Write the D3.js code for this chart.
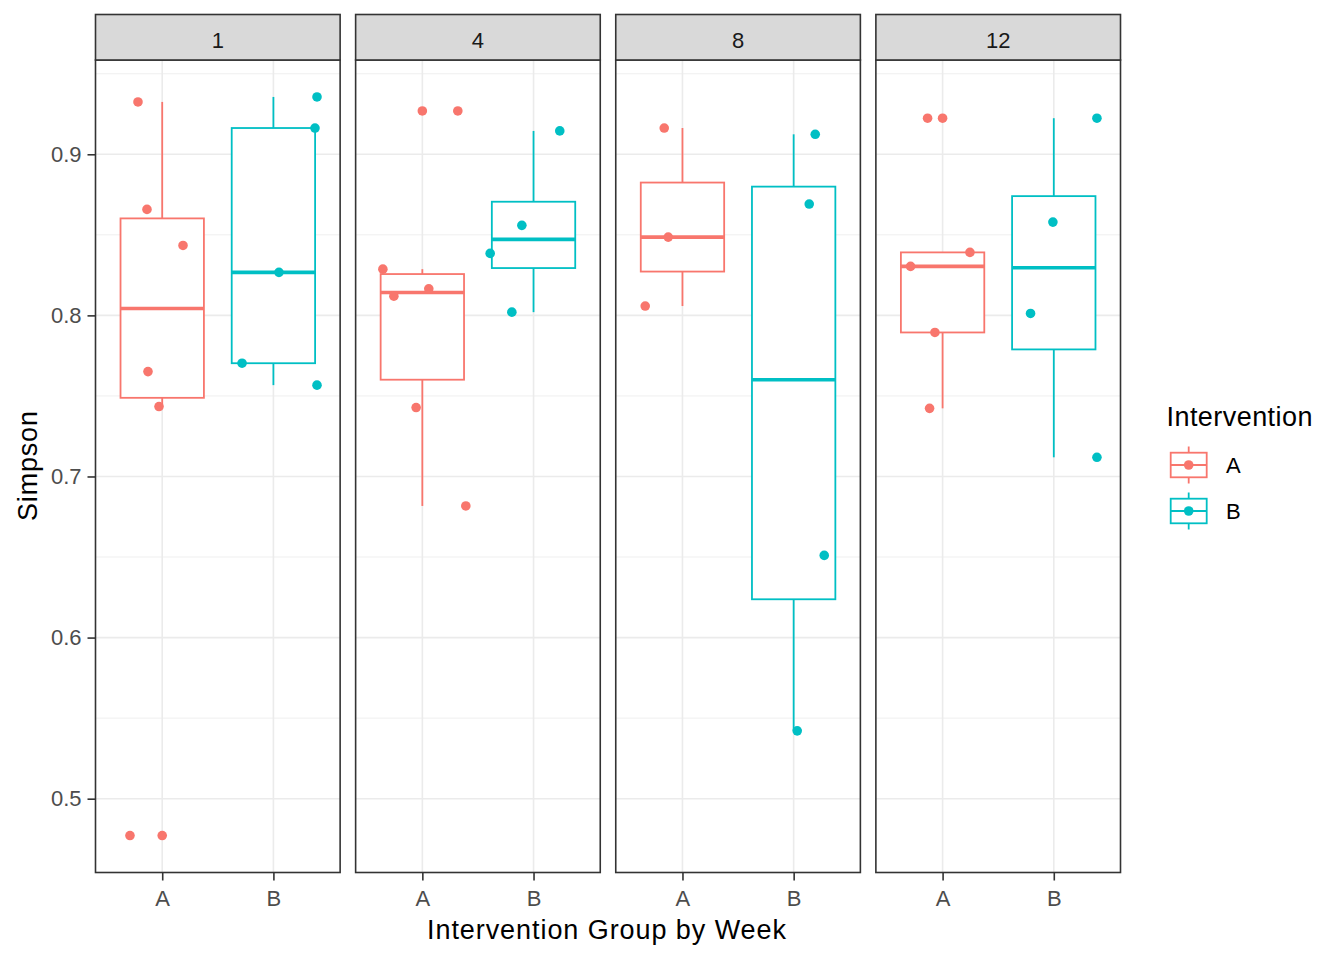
<!DOCTYPE html>
<html>
<head>
<meta charset="utf-8">
<script src="https://cdn.jsdelivr.net/npm/d3@7"></script>
<style>
  body { margin: 0; background: #fff; }
  svg text { font-family: "Liberation Sans", Arial, sans-serif; }
</style>
</head>
<body>
<svg id="chart" width="1344" height="960"></svg>
<script>
// ---- Data ----
const weeks = ["1", "4", "8", "12"];
const groups = ["A", "B"];
const groupColors = ["#F8766D", "#00BFC4"];

// Simpson values per week, group A
const simpsonA = [
  [0.9325, 0.8658, 0.8434, 0.7651, 0.7434, 0.4771],
  [0.9269, 0.8287, 0.8165, 0.8119, 0.7428, 0.6817],
  [0.9163, 0.8486, 0.8058],
  [0.9224, 0.8391, 0.8304, 0.7894, 0.7423]
];
// horizontal jitter (category units) of the jittered points, group A
const jitterA = [
  [-0.218, -0.137, 0.187, -0.128, -0.029, -0.290],
  [0.319, -0.355, 0.058, -0.256, -0.056, 0.391],
  [-0.164, -0.128, -0.335],
  [-0.135, 0.246, -0.288, -0.069, -0.117]
];
// Simpson values per week, group B
const simpsonB = [
  [0.9356, 0.9163, 0.8267, 0.7703, 0.7567],
  [0.9145, 0.8559, 0.8385, 0.8020],
  [0.9124, 0.8691, 0.6510, 0.5421],
  [0.9224, 0.8579, 0.8012, 0.7119]
];
const jitterB = [
  [0.392, 0.374, 0.050, -0.282, 0.392],
  [0.236, -0.105, -0.390, -0.195],
  [0.194, 0.140, 0.275, 0.032],
  [0.388, -0.008, -0.209, 0.388]
];
const yMajorTicks = [0.5, 0.6, 0.7, 0.8, 0.9];
const yMinorTicks = [0.55, 0.65, 0.75, 0.85, 0.95];

// ---- Layout ----
const svg = d3.select("#chart");
const plotLeft = 95.5, plotRight = 1120.5;
const stripTop = 14.5, panelTop = 60, panelBottom = 872.5;
const gap = 15.5;
const font = "'Liberation Sans', Arial, sans-serif";
const lw = 1.8;

const panelX = d3.scaleBand().domain(weeks).range([plotLeft, plotRight])
  .paddingInner(gap / ((plotRight - plotLeft + gap) / weeks.length));
const pw = panelX.bandwidth();
const xIn = d3.scalePoint().domain(groups).range([0, pw]).padding(0.6);
const step = xIn.step();

const allVals = simpsonA.flat().concat(simpsonB.flat());
const [vmin, vmax] = d3.extent(allVals);
const expand = (vmax - vmin) * 0.05;
const y = d3.scaleLinear().domain([vmin - expand, vmax + expand]).range([panelBottom, panelTop]);

function boxStats(vals) {
  const s = vals.slice().sort(d3.ascending);
  const q1 = d3.quantileSorted(s, 0.25), med = d3.quantileSorted(s, 0.5), q3 = d3.quantileSorted(s, 0.75);
  const iqr = q3 - q1;
  const lo = q1 - 1.5 * iqr, hi = q3 + 1.5 * iqr;
  const inside = s.filter(v => v >= lo && v <= hi);
  return { q1, med, q3, wlo: d3.min(inside), whi: d3.max(inside), out: s.filter(v => v < lo || v > hi) };
}

weeks.forEach((wk, wi) => {
  const g = svg.append("g").attr("transform", `translate(${panelX(wk)},0)`);
  g.append("rect").attr("x", 0).attr("y", panelTop).attr("width", pw).attr("height", panelBottom - panelTop).attr("fill", "#fff");
  g.selectAll(".ymin").data(yMinorTicks.filter(t => t > y.domain()[0] && t < y.domain()[1])).enter().append("line")
    .attr("x1", 0).attr("x2", pw).attr("y1", d => y(d)).attr("y2", d => y(d))
    .attr("stroke", "#EBEBEB").attr("stroke-width", 0.8);
  g.selectAll(".ymaj").data(yMajorTicks).enter().append("line")
    .attr("x1", 0).attr("x2", pw).attr("y1", d => y(d)).attr("y2", d => y(d))
    .attr("stroke", "#EBEBEB").attr("stroke-width", 1.6);
  g.selectAll(".xmaj").data(groups).enter().append("line")
    .attr("x1", d => xIn(d)).attr("x2", d => xIn(d)).attr("y1", panelTop).attr("y2", panelBottom)
    .attr("stroke", "#EBEBEB").attr("stroke-width", 1.6);

  const sets = [
    { grp: "A", vals: simpsonA[wi], jit: jitterA[wi], col: groupColors[0] },
    { grp: "B", vals: simpsonB[wi], jit: jitterB[wi], col: groupColors[1] }
  ];
  sets.forEach(sd => {
    const st = boxStats(sd.vals);
    const cx = xIn(sd.grp), hw = 0.375 * step;
    g.append("line").attr("x1", cx).attr("x2", cx).attr("y1", y(st.q3)).attr("y2", y(st.whi))
      .attr("stroke", sd.col).attr("stroke-width", lw);
    g.append("line").attr("x1", cx).attr("x2", cx).attr("y1", y(st.q1)).attr("y2", y(st.wlo))
      .attr("stroke", sd.col).attr("stroke-width", lw);
    g.append("rect").attr("x", cx - hw).attr("width", 2 * hw)
      .attr("y", y(st.q3)).attr("height", y(st.q1) - y(st.q3))
      .attr("fill", "#fff").attr("stroke", sd.col).attr("stroke-width", lw);
    g.append("line").attr("x1", cx - hw).attr("x2", cx + hw).attr("y1", y(st.med)).attr("y2", y(st.med))
      .attr("stroke", sd.col).attr("stroke-width", 2 * lw);
    g.selectAll(null).data(st.out).enter().append("circle")
      .attr("cx", cx).attr("cy", d => y(d)).attr("r", 4.8).attr("fill", sd.col);
  });
  sets.forEach(sd => {
    g.selectAll(null).data(sd.vals.map((v, i) => ({ v, j: sd.jit[i] }))).enter().append("circle")
      .attr("cx", d => xIn(sd.grp) + d.j * step).attr("cy", d => y(d.v)).attr("r", 4.8).attr("fill", sd.col);
  });
  g.append("rect").attr("x", 0).attr("y", panelTop).attr("width", pw).attr("height", panelBottom - panelTop)
    .attr("fill", "none").attr("stroke", "#333333").attr("stroke-width", 1.6);
  g.append("rect").attr("x", 0).attr("y", stripTop).attr("width", pw).attr("height", panelTop - stripTop)
    .attr("fill", "#D9D9D9").attr("stroke", "#333333").attr("stroke-width", 1.6);
  g.append("text").attr("x", pw / 2).attr("y", 47.5).attr("text-anchor", "middle")
    .attr("font-size", 22).attr("fill", "#1A1A1A").text(wk);
  const xa = g.append("g").attr("transform", `translate(0,${panelBottom})`)
    .call(d3.axisBottom(xIn).tickSize(8).tickPadding(9));
  xa.select(".domain").remove();
  xa.selectAll(".tick line").attr("stroke", "#333333").attr("stroke-width", 1.6);
  xa.selectAll(".tick text").attr("font-size", 22).attr("fill", "#4D4D4D").attr("font-family", font).attr("dy", "0.75em");
});

const ya = svg.append("g").attr("transform", `translate(${plotLeft},0)`)
  .call(d3.axisLeft(y).tickValues(yMajorTicks).tickFormat(d3.format(".1f")).tickSize(8).tickPadding(6));
ya.select(".domain").remove();
ya.selectAll(".tick line").attr("stroke", "#333333").attr("stroke-width", 1.6);
ya.selectAll(".tick text").attr("font-size", 22).attr("fill", "#4D4D4D").attr("font-family", font);

svg.append("text").attr("x", 606.5).attr("y", 939).attr("text-anchor", "middle")
  .attr("font-size", 27).attr("fill", "#000").attr("textLength", 359).attr("lengthAdjust", "spacing")
  .text("Intervention Group by Week");
svg.append("text").attr("transform", "translate(37,466) rotate(-90)").attr("text-anchor", "middle")
  .attr("font-size", 27).attr("fill", "#000").attr("textLength", 110).attr("lengthAdjust", "spacing")
  .text("Simpson");

const leg = svg.append("g");
leg.append("text").attr("x", 1166.5).attr("y", 426).attr("font-size", 27).attr("fill", "#000")
  .attr("textLength", 146).attr("lengthAdjust", "spacing").text("Intervention");
groups.forEach((gr, i) => {
  const cy = 465 + i * 46, cx = 1188.7, col = groupColors[i];
  const k = leg.append("g");
  k.append("line").attr("x1", cx).attr("x2", cx).attr("y1", cy - 18.5).attr("y2", cy + 18.5).attr("stroke", col).attr("stroke-width", lw);
  k.append("rect").attr("x", cx - 18).attr("y", cy - 12.3).attr("width", 36).attr("height", 24.6)
    .attr("fill", "#fff").attr("stroke", col).attr("stroke-width", lw);
  k.append("line").attr("x1", cx - 18).attr("x2", cx + 18).attr("y1", cy).attr("y2", cy).attr("stroke", col).attr("stroke-width", lw);
  k.append("circle").attr("cx", cx).attr("cy", cy).attr("r", 4.8).attr("fill", col);
  leg.append("text").attr("x", 1226).attr("y", cy).attr("dy", "0.36em").attr("font-size", 22).attr("fill", "#000").text(gr);
});
</script>
</body>
</html>
